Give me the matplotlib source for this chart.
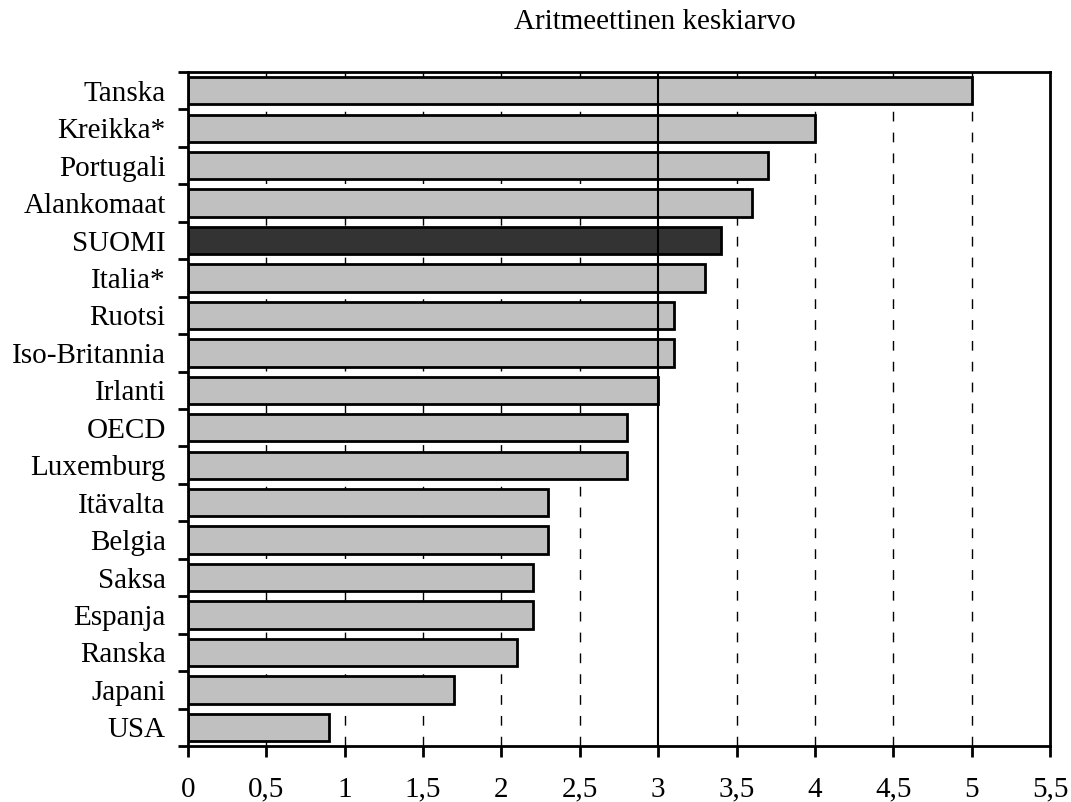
import matplotlib
matplotlib.use("Agg")
import matplotlib.pyplot as plt
import numpy as np

countries = ["Tanska", "Kreikka*", "Portugali", "Alankomaat", "SUOMI", "Italia*",
             "Ruotsi", "Iso-Britannia", "Irlanti", "OECD", "Luxemburg", "Itävalta",
             "Belgia", "Saksa", "Espanja", "Ranska", "Japani", "USA"]
values = [5.0, 4.0, 3.7, 3.6, 3.4, 3.3, 3.1, 3.1, 3.0, 2.8, 2.8, 2.3, 2.3, 2.2, 2.2, 2.1, 1.7, 0.9]
highlight = "SUOMI"
xticks = [0, 0.5, 1, 1.5, 2, 2.5, 3, 3.5, 4, 4.5, 5, 5.5]
xticklabels = ["0", "0,5", "1", "1,5", "2", "2,5", "3", "3,5", "4", "4,5", "5", "5,5"]
title = "Aritmeettinen keskiarvo"

plt.rcParams['font.family'] = ['Liberation Serif', 'DejaVu Serif']

fig = plt.figure(figsize=(10.71, 8.02), dpi=100)
ax = fig.add_axes([0.1755, 0.0698, 0.8049, 0.8404])

n = len(countries)
y = np.arange(n)
colors = ["#333333" if c == highlight else "#c0c0c0" for c in countries]
ax.barh(y, values, height=0.73, color=colors, edgecolor="black", linewidth=2, zorder=2)

for xv in xticks[1:-1]:
    if xv == 3:
        ax.axvline(xv, color="black", linewidth=1.5, zorder=3)
    else:
        ax.axvline(xv, color="black", linewidth=1, linestyle=(0, (7, 8)), zorder=1)

ax.set_xlim(0, 5.5)
ax.set_ylim(n - 0.5, -0.5)
ax.set_xticks(xticks)
ax.set_xticklabels(xticklabels, fontsize=21)
ax.set_yticks(y)
ax.set_yticklabels(countries, fontsize=21)
ax.tick_params(axis='y', which='major', length=0, pad=16)
ax.set_yticks(np.arange(n + 1) - 0.5, minor=True)
ax.tick_params(axis='y', which='minor', length=7, width=2, direction='out')
ax.tick_params(axis='x', which='major', length=8, width=2, direction='out', pad=14)

for s in ax.spines.values():
    s.set_linewidth(2)

fig.text(0.611, 0.972, title, ha='center', va='center', fontsize=21)

fig.savefig("out.png", dpi=100)
